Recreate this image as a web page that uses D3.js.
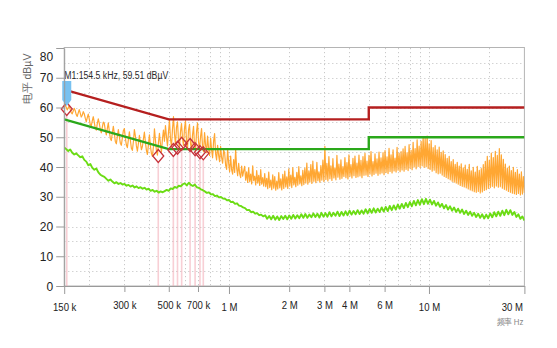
<!DOCTYPE html>
<html>
<head>
<meta charset="utf-8">
<script src="https://cdn.jsdelivr.net/npm/d3@7"></script>
<style>
  html, body { margin: 0; padding: 0; background: #fff; }
  svg { display: block; font-family: "Liberation Sans", Arial, sans-serif; }
</style>
</head>
<body>
<svg id="chart" width="557" height="348"></svg>
<script>
// ---- Conducted emission scan, 150 kHz – 30 MHz ----
const sweepStart = 150e3;
const sweepStop = 30e6;

// Peak detector trace (dBµV), log-spaced sweep points
const peakLevels = [
  61.4, 60.8, 60.1, 59.2, 59.9, 60.6, 59.4, 58.3, 57.9, 58.8, 59.7, 58.9, 57.6, 57.0, 58.2, 59.3, 58.1, 56.8, 57.4, 58.6,
  57.9, 56.4, 55.2, 56.6, 57.8, 56.1, 54.3, 53.8, 55.5, 56.9, 55.0, 53.1, 52.4, 54.6, 56.2, 54.7, 52.6, 51.5, 53.3, 55.1,
  54.6, 52.3, 50.8, 52.9, 54.8, 52.0, 49.6, 48.9, 51.4, 53.7, 51.2, 48.6, 47.8, 50.3, 52.6, 50.1, 48.0, 47.3, 49.8, 52.2,
  52.9, 49.7, 47.4, 46.5, 49.2, 51.8, 49.0, 46.3, 45.6, 48.5, 52.6, 50.4, 47.1, 45.3, 47.9, 50.6, 48.2, 45.8, 46.9, 49.4,
  51.7, 48.3, 45.6, 44.2, 47.5, 50.8, 47.0, 44.5, 43.6, 46.9, 52.8, 49.1, 45.4, 44.0, 48.2, 51.3, 47.6, 45.1, 49.5, 52.4,
  48.7, 53.9, 50.2, 47.1, 51.6, 55.8, 49.4, 46.8, 52.7, 56.9, 51.0, 47.5, 53.4, 55.2, 48.9, 46.5, 51.8, 54.6, 49.7, 47.2,
  53.1, 55.4, 48.6, 46.1, 52.5, 54.3, 47.9, 45.6, 50.8, 53.7, 47.2, 45.3, 51.9, 54.8, 48.4, 46.0, 50.2, 52.9, 46.6, 45.1,
  51.6, 47.3, 44.8, 50.4, 46.2, 43.9, 49.7, 45.8, 43.1, 48.6, 51.2, 44.5, 42.4, 47.3, 44.0, 41.8, 46.9, 43.2, 41.3, 45.6,
  44.8, 40.6, 39.2, 46.1, 41.3, 38.4, 43.7, 39.0, 37.6, 42.5, 38.2, 45.9, 39.6, 37.1, 41.2, 37.8, 36.4, 40.3, 36.9, 38.7,
  40.2, 35.6, 38.4, 34.8, 39.7, 35.1, 37.6, 34.3, 40.4, 35.4, 36.9, 34.0, 38.8, 34.6, 37.2, 33.8, 39.1, 34.2, 36.4, 33.6,
  37.8, 33.4, 36.2, 32.7, 38.3, 33.1, 35.6, 32.4, 37.4, 32.9, 36.8, 32.2, 35.3, 32.6, 38.1, 33.0, 36.0, 32.3, 37.5, 32.8,
  38.6, 33.3, 36.7, 32.8, 39.4, 33.6, 37.3, 33.1, 39.8, 34.0, 36.5, 33.4, 38.2, 33.9, 40.1, 34.3, 37.0, 33.7, 38.9, 34.1,
  39.6, 34.6, 41.3, 34.2, 38.7, 35.0, 40.8, 34.5, 42.0, 35.2, 39.1, 34.7, 41.6, 35.4, 38.4, 34.9, 40.5, 35.6, 42.3, 35.1,
  46.9, 35.8, 41.2, 35.3, 43.5, 36.1, 40.4, 35.5, 42.8, 36.3, 39.7, 35.7, 43.9, 36.6, 41.0, 35.9, 42.4, 36.2, 40.1, 36.8,
  43.2, 36.4, 41.5, 36.0, 44.1, 36.9, 40.8, 36.3, 42.9, 37.1, 43.7, 36.5, 41.3, 36.7, 44.0, 37.0, 42.2, 36.4, 43.5, 37.2,
  44.6, 37.3, 42.0, 36.8, 43.9, 37.6, 45.2, 37.0, 41.8, 37.5, 44.4, 37.9, 42.7, 37.2, 45.0, 37.7, 43.1, 38.0, 44.8, 37.4,
  45.5, 38.2, 43.4, 37.8, 46.3, 38.5, 44.1, 38.0, 45.8, 38.7, 43.0, 38.3, 46.6, 38.9, 44.7, 38.4, 45.2, 39.0, 46.1, 38.6,
  46.9, 39.2, 44.8, 38.8, 47.5, 39.6, 45.6, 39.1, 48.3, 40.0, 46.2, 39.4, 49.1, 40.2, 47.0, 39.8, 48.6, 40.4, 50.2, 39.9,
  49.6, 40.1, 50.4, 39.5, 47.8, 39.2, 48.9, 38.6, 46.5, 38.9, 47.2, 38.1, 45.8, 37.7, 46.7, 37.9, 44.9, 37.3, 45.4, 36.8,
  44.2, 36.5, 42.9, 36.1, 43.6, 35.7, 41.8, 35.2, 42.5, 34.9, 40.9, 34.6, 41.6, 34.2, 40.3, 33.8, 41.1, 33.5, 39.7, 33.3,
  40.6, 33.0, 39.2, 32.6, 40.9, 32.3, 38.7, 32.0, 39.9, 31.7, 38.3, 31.5, 40.2, 31.8, 38.9, 31.3, 39.5, 31.6, 40.8, 32.1,
  41.9, 32.4, 43.6, 32.8, 42.3, 33.1, 44.7, 33.5, 43.2, 33.0, 45.3, 33.6, 43.9, 33.2, 46.2, 33.4, 44.1, 32.9, 42.6, 32.5,
  41.0, 32.2, 39.6, 31.8, 40.3, 31.5, 38.8, 31.2, 39.9, 31.0, 38.2, 30.8, 39.1, 31.1, 37.6, 30.6, 38.4, 30.9, 36.8, 31.3
];

// Average detector trace (dBµV), log-spaced sweep points
const avgLevels = [
  46.6, 46.0, 45.4, 45.9, 44.8, 44.2, 44.6, 43.9, 43.3, 43.6,
  42.4, 41.8, 40.6, 41.0, 39.7, 39.1, 39.5, 38.2, 37.4, 37.0,
  36.7, 36.0, 35.4, 35.8, 35.1, 34.5, 34.9, 34.3, 34.6, 34.1,
  34.3, 33.7, 34.0, 33.4, 33.8, 33.1, 33.5, 32.9, 33.2, 32.7,
  33.0, 32.4, 32.7, 32.0, 32.3, 31.7, 32.0, 31.4, 31.8, 31.5,
  31.9, 32.3, 32.0, 32.8, 32.6, 33.3, 33.0, 33.7, 33.5, 34.2,
  34.5, 33.8, 34.7, 34.0, 33.6, 34.1, 33.2, 33.0, 32.5, 32.2,
  31.8, 31.3, 31.5, 30.8, 30.9, 30.2, 30.4, 29.8, 29.9, 29.4,
  29.3, 28.8, 28.9, 28.2, 28.3, 27.6, 27.8, 27.0, 26.9, 26.4,
  26.2, 25.5, 25.6, 24.8, 25.0, 24.3, 24.5, 23.8, 24.0, 23.4,
  23.8, 22.6, 23.5, 22.4, 23.6, 22.3, 23.4, 22.2, 23.5, 22.5,
  23.6, 22.4, 23.7, 22.6, 23.9, 22.7, 23.8, 22.8, 24.1, 22.9,
  24.2, 22.9, 24.0, 23.1, 24.4, 23.2, 24.3, 23.0, 24.6, 23.3,
  24.5, 23.3, 24.8, 23.4, 24.6, 23.6, 25.0, 23.5, 24.9, 23.7,
  25.1, 23.8, 25.3, 24.0, 25.2, 24.1, 25.5, 24.2, 25.4, 24.3,
  25.8, 24.4, 25.9, 24.6, 26.1, 24.7, 26.0, 24.9, 26.4, 25.0,
  26.6, 25.2, 26.9, 25.5, 27.1, 25.7, 27.4, 26.0, 27.6, 26.2,
  27.9, 26.5, 28.2, 26.8, 28.6, 27.1, 28.9, 27.3, 29.2, 27.5,
  29.3, 27.6, 29.0, 27.4, 28.6, 27.0, 28.1, 26.6, 27.6, 26.1,
  27.2, 25.7, 26.8, 25.3, 26.4, 24.9, 26.0, 24.6, 25.7, 24.2,
  25.3, 23.9, 25.0, 23.6, 24.6, 23.2, 24.3, 22.9, 24.1, 22.7,
  24.0, 22.8, 24.4, 23.1, 24.8, 23.4, 25.0, 23.6, 25.3, 23.8,
  25.6, 24.1, 25.5, 23.9, 24.9, 23.2, 24.1, 22.6, 23.4, 22.0
];

// Limit lines (quasi-peak and average), breakpoints in Hz
const limitFreqs = [150e3, 500e3, 5e6, 5e6, 30e6];
const qpLimit = [66, 56, 56, 60, 60];
const avLimit = [56, 46, 46, 50, 50];

// Final measurement points
const finalFreqs = [154.5e3, 443e3, 527e3, 553e3, 580e3, 639e3, 677e3, 716e3, 744e3];
const finalLevels = [59.51, 43.7, 45.7, 46.5, 47.8, 47.4, 46.0, 45.0, 44.6];

// Marker M1
const markerName = "M1";
const markerFreq = 154.5e3;
const markerLevel = 59.51;

// Axis ticks
const xTicks = [150e3, 300e3, 500e3, 700e3, 1e6, 2e6, 3e6, 4e6, 6e6, 10e6, 30e6];
const xTickLabels = ["150 k", "300 k", "500 k", "700 k", "1 M", "2 M", "3 M", "4 M", "6 M", "10 M", "30 M"];
const xMajorTicks = [150e3, 1e6, 10e6, 30e6];
const yTicks = [0, 10, 20, 30, 40, 50, 60, 70, 80];
const yGridStep = 5;
const xGridLines = [200e3, 300e3, 400e3, 500e3, 600e3, 700e3, 800e3, 900e3,
  1e6, 2e6, 3e6, 4e6, 5e6, 6e6, 7e6, 8e6, 9e6, 10e6, 20e6];

const yTitle = "电平 dBµV";
const xTitle = "频率 Hz";

// ---- layout ----
const svg = d3.select("#chart");
const plot = { left: 64.2, right: 524.4, top: 48, bottom: 286 };
const x = d3.scaleLog().domain([sweepStart, sweepStop]).range([plot.left, plot.right]);
const y = d3.scaleLinear().domain([0, 80]).range([plot.bottom, plot.top]);
const sx = 0.87; // narrow lettering for axis text

const sweepFreq = (n) => (i) => sweepStart * Math.pow(sweepStop / sweepStart, i / (n - 1));
const peakFreq = sweepFreq(peakLevels.length);
const avgFreq = sweepFreq(avgLevels.length);

svg.append("defs").append("clipPath").attr("id", "plotClip")
  .append("rect")
  .attr("x", plot.left).attr("y", plot.top)
  .attr("width", plot.right - plot.left).attr("height", plot.bottom - plot.top);

// grid
const grid = svg.append("g").attr("stroke", "#c9c9c9").attr("stroke-width", 1)
  .attr("stroke-dasharray", "1.2,2.8");
grid.selectAll("line.h").data(d3.range(yGridStep, 80, yGridStep)).join("line")
  .attr("x1", plot.left).attr("x2", plot.right)
  .attr("y1", d => Math.round(y(d)) + 0.5).attr("y2", d => Math.round(y(d)) + 0.5);
grid.selectAll("line.v").data(xGridLines).join("line")
  .attr("y1", plot.top).attr("y2", plot.bottom)
  .attr("x1", d => Math.round(x(d)) + 0.5).attr("x2", d => Math.round(x(d)) + 0.5);

// frame
svg.append("rect")
  .attr("x", plot.left).attr("y", plot.top - 0.5)
  .attr("width", plot.right - plot.left).attr("height", plot.bottom - plot.top + 0.5)
  .attr("fill", "none").attr("stroke", "#b4b4b4").attr("stroke-width", 1);

const clipped = svg.append("g").attr("clip-path", "url(#plotClip)");

// drop lines from final measurement points
clipped.selectAll("line.drop").data(finalFreqs).join("line")
  .attr("x1", d => x(d)).attr("x2", d => x(d))
  .attr("y1", (d, i) => y(finalLevels[i]) + 6).attr("y2", plot.bottom)
  .attr("stroke", "#f2a7b3").attr("stroke-opacity", 0.55).attr("stroke-width", 1.6);

// traces
const peakLine = d3.line().x((d, i) => x(peakFreq(i))).y(d => y(d));
const avgLine = d3.line().x((d, i) => x(avgFreq(i))).y(d => y(d));
clipped.append("path").datum(peakLevels).attr("d", peakLine)
  .attr("fill", "none").attr("stroke", "#ffa733").attr("stroke-width", 1.2)
  .attr("stroke-linejoin", "round");
clipped.append("path").datum(avgLevels).attr("d", avgLine)
  .attr("fill", "none").attr("stroke", "#6bdc14").attr("stroke-width", 1.9)
  .attr("stroke-linejoin", "round");

// limit lines
const limitLine = (levels) => d3.line().x((d, i) => x(limitFreqs[i])).y(d => y(d))(levels);
clipped.append("path").attr("d", limitLine(qpLimit))
  .attr("fill", "none").attr("stroke", "#b51f1f").attr("stroke-width", 2.4);
clipped.append("path").attr("d", limitLine(avLimit))
  .attr("fill", "none").attr("stroke", "#2aa81a").attr("stroke-width", 2.4);

// final measurement diamonds
const diamond = "M0,-6.5L5.5,0L0,6.5L-5.5,0Z";
svg.append("g").selectAll("path").data(finalFreqs).join("path")
  .attr("d", diamond)
  .attr("transform", (d, i) => `translate(${x(d)},${y(finalLevels[i])})`)
  .attr("fill", "none").attr("stroke", "#c6313a").attr("stroke-width", 1.3);

// marker flag
const mx = x(markerFreq), my = y(markerLevel);
const tip = my - 3;
svg.append("path")
  .attr("d", `M${mx - 4.5},${tip - 25}H${mx + 4.5}V${tip - 6}L${mx},${tip}L${mx - 4.5},${tip - 6}Z`)
  .attr("fill", "#78c1f0");

function label(parent, px, py, str, o) {
  return parent.append("text")
    .attr("transform", `translate(${px},${py}) scale(${o.sx || 1},1)`)
    .attr("text-anchor", o.anchor || "start")
    .attr("font-size", o.size)
    .attr("fill", o.color || "#222")
    .text(str);
}

label(svg, plot.left, tip - 27,
  `${markerName}:${(markerFreq / 1e3).toFixed(1)} kHz, ${markerLevel.toFixed(2)} dBµV`,
  { size: 10, sx: sx, color: "#2a2a2a" });

// y axis
const yAxis = svg.append("g").attr("transform", `translate(${plot.left},0)`)
  .call(d3.axisLeft(y).tickValues(yTicks).tickSize(8).tickSizeOuter(0).tickPadding(3));
yAxis.select(".domain").attr("stroke", "#9a9a9a");
yAxis.selectAll(".tick line").attr("stroke", "#9a9a9a");
yAxis.selectAll(".tick text")
  .attr("font-size", 12).attr("fill", "#222")
  .attr("font-family", "Liberation Sans, Arial, sans-serif")
  .attr("dy", d => (y(d) - plot.top < 8 ? 8 : 0) + 4 + "px");

// x axis
const isMajor = d => xMajorTicks.includes(d);
const xAxis = svg.append("g").attr("transform", `translate(0,${plot.bottom})`)
  .call(d3.axisBottom(x).tickValues(xTicks).tickFormat((d, i) => xTickLabels[i]).tickSizeOuter(0));
xAxis.select(".domain").attr("stroke", "#9a9a9a");
xAxis.selectAll(".tick line").attr("stroke", "#9a9a9a").attr("y2", d => isMajor(d) ? 8 : 6);
xAxis.selectAll(".tick text")
  .attr("font-size", 11).attr("fill", "#222")
  .attr("font-family", "Liberation Sans, Arial, sans-serif")
  .attr("y", null).attr("dy", null)
  .attr("text-anchor", d => x(d) + 12 > plot.right ? "end" : "middle")
  .attr("transform", d => `translate(${x(d) + 12 > plot.right ? -2 : 0},${isMajor(d) ? 25 : 22.5}) scale(${sx},1)`);

// axis titles
label(svg, plot.right - 1, 325, xTitle, { size: 9, sx: sx, anchor: "end", color: "#888" });
svg.append("text")
  .attr("transform", `translate(30.5,79) rotate(-90)`)
  .attr("text-anchor", "middle")
  .attr("font-size", 10.5).attr("fill", "#666")
  .text(yTitle);
</script>
</body>
</html>
